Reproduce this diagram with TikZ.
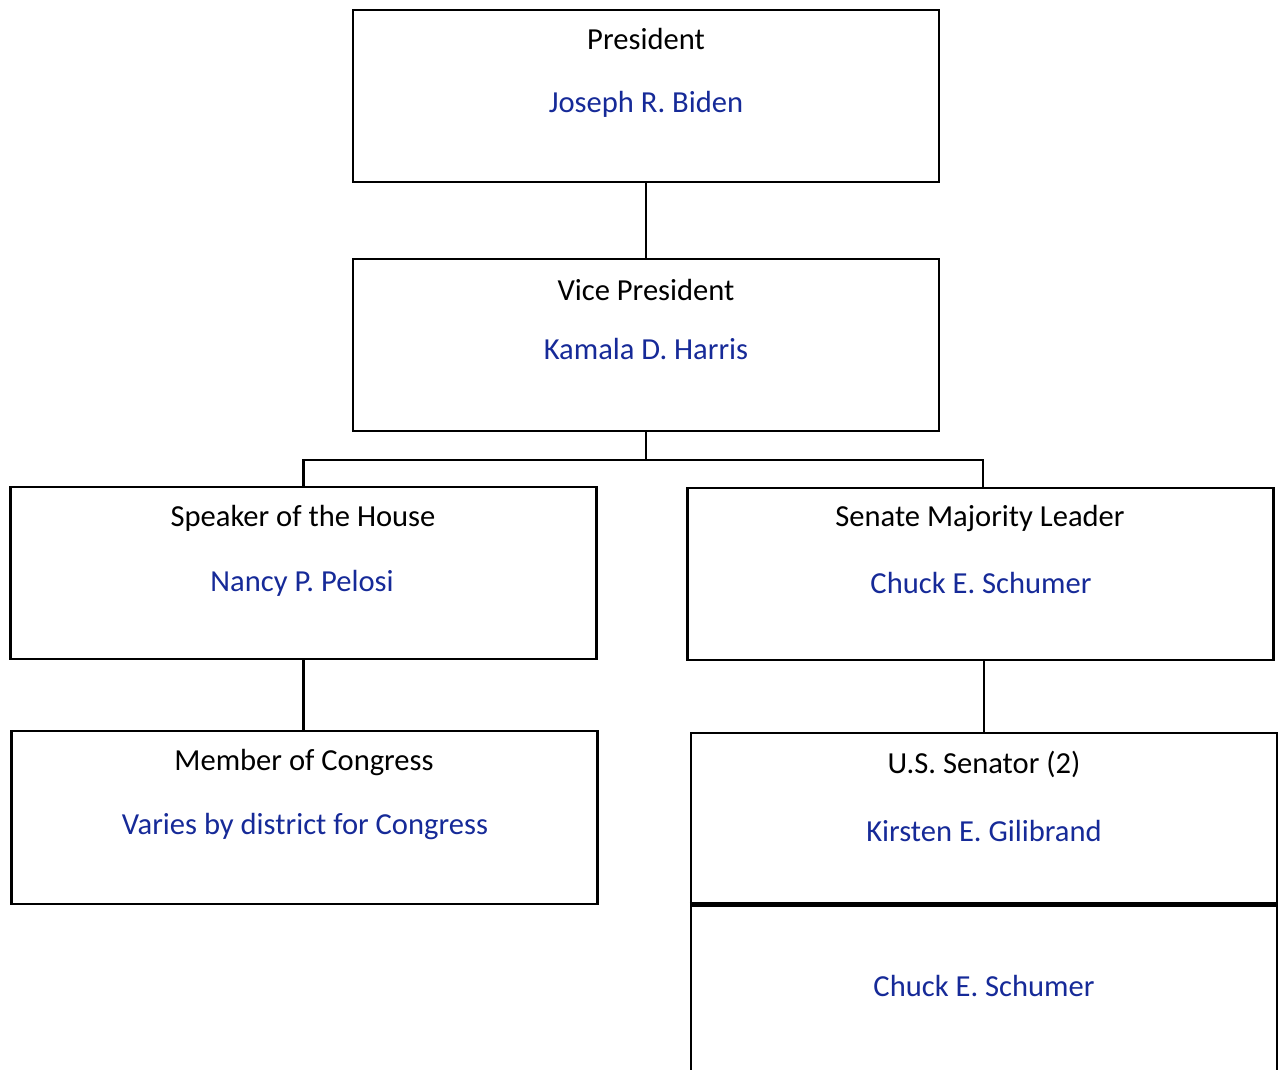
\documentclass[tikz,border=0pt]{standalone}
\usepackage{fontspec}
\setmainfont{Carlito}
\usepackage{xcolor}
\definecolor{nameblue}{RGB}{22,42,152}
\tikzset{
  office/.style={draw, line width=1.4pt, inner sep=0pt, minimum width=11.72cm},
  title/.style={font=\fontsize{17.4}{20}\selectfont, text=black},
  holder/.style={font=\fontsize{17.4}{20}\selectfont, text=nameblue},
  link/.style={line width=1.4pt},
}
\begin{document}
\begin{tikzpicture}[x=0.02cm,y=-0.02cm]
\useasboundingbox (0,0) rectangle (1278,1070);
% boxes
\node[office, minimum height=3.44cm] (pres) at (646,96) {};
\node[office, minimum height=3.44cm] (vp) at (646,345) {};
\node[office, minimum height=3.44cm] (speaker) at (303.5,573) {};
\node[office, minimum height=3.44cm] (senate) at (980.5,574) {};
\node[office, minimum height=3.46cm] (member) at (304.5,817.5) {};
\node[office, minimum height=3.40cm] (senator) at (984,818) {};
\node[office, minimum height=3.62cm] (senator2) at (984,994.5) {};
\draw[line width=2.8pt] (senator.south west) -- (senator.south east);
% texts
\node[title] (pres-t) at (646,39) {President};
\node[holder] (pres-n) at (646,104) {Joseph R. Biden};
\node[title] (vp-t) at (646,290) {Vice President};
\node[holder] (vp-n) at (646,349) {Kamala D. Harris};
\node[title] (speaker-t) at (303,518) {Speaker of the House};
\node[holder] (speaker-n) at (302,583) {Nancy P. Pelosi};
\node[title] (senate-t) at (980,519) {Senate Majority Leader};
\node[holder] (senate-n) at (981,583) {Chuck E. Schumer};
\node[title] (member-t) at (304,763) {Member of Congress};
\node[holder] (member-n) at (305,827) {Varies by district for Congress};
\node[title] (senator-t) at (984,764) {U.S. Senator (2)};
\node[holder] (senator-n) at (984,831) {Kirsten E. Gilibrand};
\node[holder] (senator2-n) at (984,986) {Chuck E. Schumer};
% connectors
\draw[link] (pres.south) -- (vp.north);
\draw[link] (vp.south) -- ++(0,28) -| (speaker.north);
\draw[link] (vp.south) -- ++(0,28) -| ([xshift=1.5]senate.north);
\draw[link] (speaker.south) -- (speaker.south |- member.north);
\draw[link] (senator.north |- senate.south) -- (senator.north);
\end{tikzpicture}
\end{document}
